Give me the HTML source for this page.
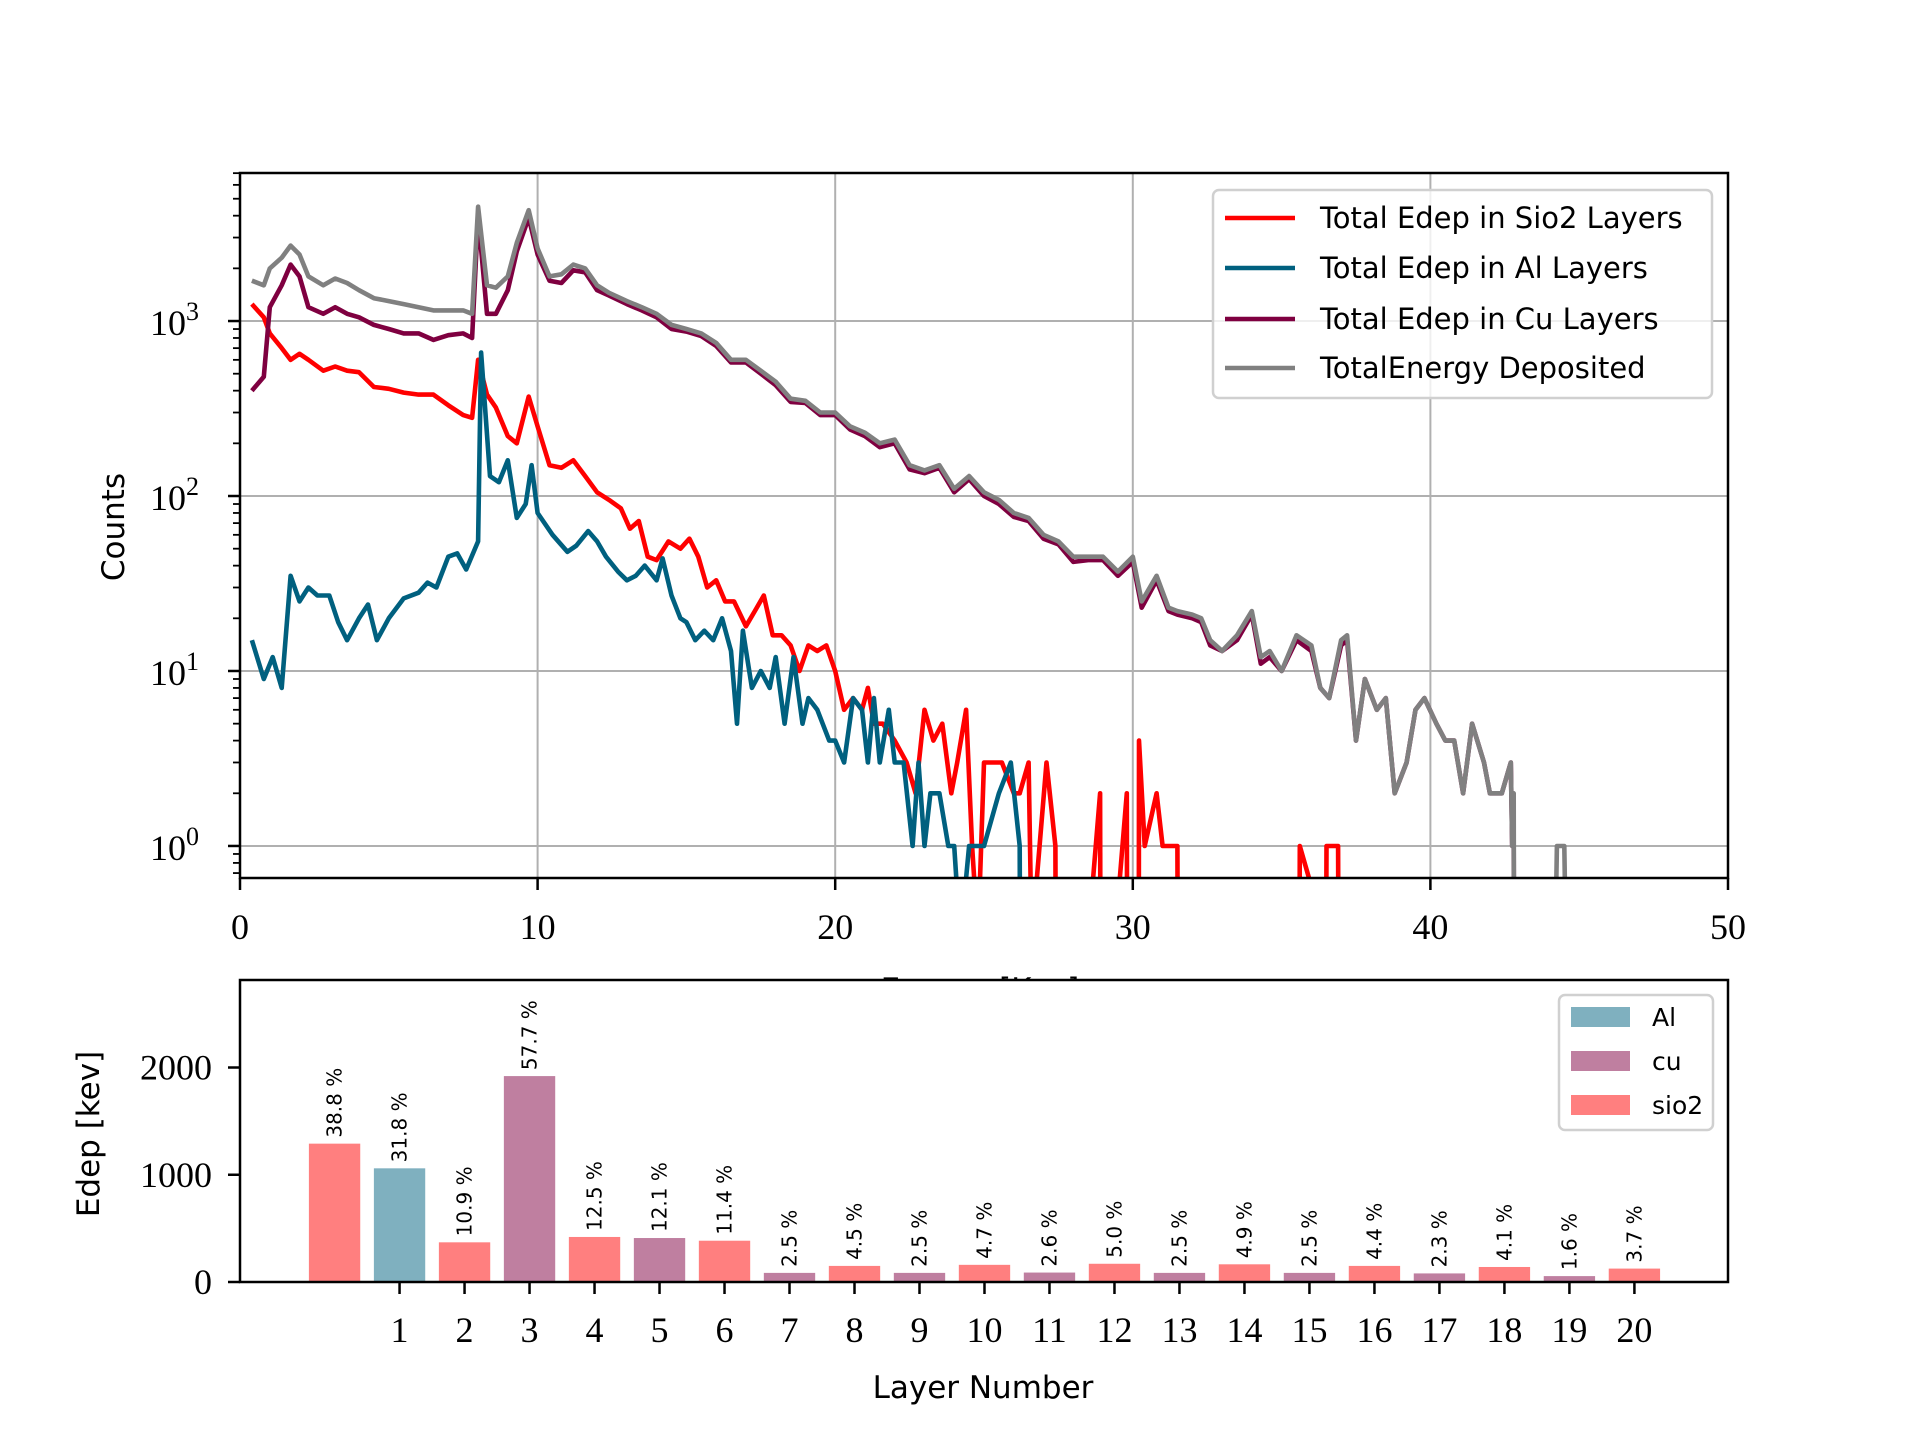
<!DOCTYPE html>
<html><head><meta charset="utf-8"><style>
html,body{margin:0;padding:0;background:#fff}
svg{display:block}
.serif{font-family:"Liberation Serif",serif}
.sans{font-family:"DejaVu Sans","Liberation Sans",sans-serif}
</style></head><body>
<svg id="fig" width="1920" height="1440" viewBox="0 0 1920 1440" xmlns="http://www.w3.org/2000/svg">
<rect width="1920" height="1440" fill="#fff"/>
<defs><clipPath id="clipTop"><rect x="240" y="173" width="1488" height="705"/></clipPath></defs>
<g id="top"></g>
<g id="bottom"></g>
</svg>
<script>
// ---------- spectrum data (keV, counts) ----------
const totalX = [0.4,0.8,1.0,1.4,1.7,2.0,2.3,2.8,3.2,3.6,4.0,4.5,5.0,5.5,6.0,6.5,7.0,7.5,7.8,8.0,8.3,8.6,9.0,9.3,9.7,10.0,10.4,10.8,11.2,11.6,12.0,12.4,13.0,13.5,14.0,14.5,15.0,15.5,16.0,16.5,17.0,17.5,18.0,18.5,19.0,19.5,20.0,20.5,21.0,21.5,22.0,22.5,23.0,23.5,24.0,24.5,25.0,25.5,26.0,26.5,27.0,27.5,28.0,28.5,29.0,29.5,30.0,30.3,30.8,31.2,31.5,32.0,32.3,32.6,33.0,33.5,34.0,34.3,34.6,35.0,35.5,36.0,36.3,36.6,37.0,37.2,37.5,37.8,38.2,38.5,38.8,39.2,39.5,39.8,40.2,40.5,40.8,41.1,41.4,41.8,42.0,42.4,42.7,42.75,42.8,42.81,44.2,44.25,44.5,44.55];
const totalY = [1700,1600,2000,2300,2700,2400,1800,1600,1750,1650,1500,1350,1300,1250,1200,1150,1150,1150,1100,4500,1600,1550,1800,2800,4300,2600,1800,1850,2100,2000,1600,1450,1300,1200,1100,950,900,850,750,600,600,520,450,360,350,300,300,250,230,200,210,150,140,150,110,130,105,95,80,75,60,55,45,45,45,37,45,25,35,23,22,21,20,15,13,16,22,12,13,10,16,14,8,7,15,16,4,9,6,7,2,3,6,7,5,4,4,2,5,3,2,2,3,1,2,0,0,1,1,0];
const cuX = [0.4,0.8,1.0,1.4,1.7,2.0,2.3,2.8,3.2,3.6,4.0,4.5,5.0,5.5,6.0,6.5,7.0,7.5,7.8,8.0,8.3,8.6,9.0,9.3,9.7,10.0,10.4,10.8,11.2,11.6,12.0,12.4,13.0,13.5,14.0,14.5,15.0,15.5,16.0,16.5,17.0,17.5,18.0,18.5,19.0,19.5,20.0,20.5,21.0,21.5,22.0,22.5,23.0,23.5,24.0,24.5,25.0,25.5,26.0,26.5,27.0,27.5,28.0,28.5,29.0,29.5,30.0,30.3,30.8,31.2,31.5,32.0,32.3,32.6,33.0,33.5,34.0,34.3,34.6,35.0,35.5,36.0,36.3,36.6,37.0,37.2,37.5,37.8,38.2,38.5,38.8,39.2,39.5,39.8,40.2,40.5,40.8,41.1,41.4,41.8,42.0,42.4,42.7,42.75,42.8,42.81];
const cuY = [400,480,1200,1600,2100,1800,1200,1100,1200,1100,1050,950,900,850,850,780,830,850,800,4000,1100,1100,1500,2500,3900,2400,1700,1650,1950,1900,1500,1400,1250,1150,1050,900,870,820,720,580,580,500,430,345,340,290,290,240,220,190,200,142,135,145,105,125,100,90,76,72,57,53,42,43,43,35,42,23,33,22,21,20,19,14,13,15,21,11,12,10,15,13,8,7,14,15,4,9,6,7,2,3,6,7,5,4,4,2,5,3,2,2,3,1,1,0];
const sio2X = [0.4,0.8,1.0,1.4,1.7,2.0,2.3,2.8,3.2,3.6,4.0,4.5,5.0,5.5,6.0,6.5,7.0,7.5,7.8,8.0,8.3,8.6,9.0,9.3,9.7,10.0,10.4,10.8,11.2,11.6,12.0,12.4,12.8,13.1,13.4,13.7,14.0,14.4,14.8,15.1,15.4,15.7,16.0,16.3,16.6,17.0,17.3,17.6,17.9,18.2,18.5,18.8,19.1,19.4,19.7,20.0,20.3,20.6,20.9,21.1,21.3,21.6,22.0,22.4,22.7,23.0,23.3,23.6,23.9,24.1,24.4,24.6,24.8,25.0,25.4,25.6,26.0,26.2,26.5,26.6,26.61,27.1,27.4,27.41,28.5,28.9,28.91,29.4,29.8,29.81,30.2,30.21,30.4,30.8,31.0,31.3,31.5,31.51,35.6,35.61,36.5,36.51,36.9,36.91];
const sio2Y = [1250,1050,850,700,600,650,600,520,550,520,510,420,410,390,380,380,330,290,280,600,380,320,220,200,370,250,150,145,160,130,105,95,85,65,72,45,43,55,50,57,45,30,33,25,25,18,22,27,16,16,14,10,14,13,14,10,6,7,6,8,5,5,4,3,2,6,4,5,2,3,6,1,0.2,3,3,3,2,2,3,0.2,0.2,3,1,0.2,0.2,2,0.2,0.2,2,0.2,0.2,4,1,2,1,1,1,0.2,0.2,1,0.2,1,1,0.2];
const alX = [0.4,0.8,1.1,1.4,1.7,2.0,2.3,2.6,3.0,3.3,3.6,4.0,4.3,4.6,5.0,5.5,6.0,6.3,6.6,7.0,7.3,7.6,8.0,8.1,8.4,8.7,9.0,9.3,9.6,9.8,10.0,10.5,11.0,11.3,11.7,12.0,12.3,12.7,13.0,13.3,13.6,14.0,14.2,14.5,14.8,15.0,15.3,15.6,15.9,16.2,16.5,16.7,16.9,17.2,17.5,17.8,18.0,18.3,18.6,18.9,19.1,19.4,19.8,20.0,20.3,20.6,20.9,21.1,21.3,21.5,21.8,22.0,22.3,22.6,22.8,23.0,23.2,23.5,23.8,24.0,24.2,24.21,24.5,24.6,25.0,25.5,25.9,26.2,26.21];
const alY = [15,9,12,8,35,25,30,27,27,19,15,20,24,15,20,26,28,32,30,45,47,38,55,660,130,120,160,75,90,150,80,60,48,52,63,55,45,37,33,35,40,33,44,27,20,19,15,17,15,20,13,5,17,8,10,8,12,5,12,5,7,6,4,4,3,7,6,3,7,3,6,3,3,1,3,1,2,2,1,1,0.2,0.2,1,1,1,2,3,1,0.2];
const seriesColors = ['#ff0000','#00607f','#7f0040','#808080'];
const seriesNames = ['Total Edep in Sio2 Layers','Total Edep in Al Layers','Total Edep in Cu Layers','TotalEnergy Deposited'];
const xTicks = [0,10,20,30,40,50];
const yDecades = [0,1,2,3];

// ---------- layer bar data ----------
const layers = [0,1,2,3,4,5,6,7,8,9,10,11,12,13,14,15,16,17,18,19,20];
const edep = [1290,1060,370,1920,420,410,385,85,150,85,160,88,170,85,165,85,150,80,140,55,125];
const materials = ['sio2','Al','sio2','cu','sio2','cu','sio2','cu','sio2','cu','sio2','cu','sio2','cu','sio2','cu','sio2','cu','sio2','cu','sio2'];
const pctLabels = ['38.8 %','31.8 %','10.9 %','57.7 %','12.5 %','12.1 %','11.4 %','2.5 %','4.5 %','2.5 %','4.7 %','2.6 %','5.0 %','2.5 %','4.9 %','2.5 %','4.4 %','2.3 %','4.1 %','1.6 %','3.7 %'];
const layerTicks = [1,2,3,4,5,6,7,8,9,10,11,12,13,14,15,16,17,18,19,20];
const edepTicks = [0,1000,2000];
const matColors = {Al:'#7fb0bf', cu:'#bf7fa0', sio2:'#ff7f7f'};
const legendMats = ['Al','cu','sio2'];

const NS='http://www.w3.org/2000/svg';
function mk(parent,tag,attrs,text){const e=document.createElementNS(NS,tag);for(const k in attrs)e.setAttribute(k,attrs[k]);if(text!==undefined)e.textContent=text;parent.appendChild(e);return e;}

const L=240,R=1728,T=173,B=878;
const X=v=>L+(v-0)/(50-0)*(R-L);
const LMIN=Math.log10(0.656),LMAX=3.846;
const Y=v=>{if(v<=0.3)return B+60;return B-(Math.log10(v)-LMIN)/(LMAX-LMIN)*(B-T);};
const topG=document.getElementById('top');
xTicks.slice(1,5).forEach(t=>{
 const g=mk(topG,'line',{x1:X(t),x2:X(t),y1:T,y2:B,stroke:'#b0b0b0','stroke-width':2});
 
 
});
yDecades.forEach(d=>{
 const g=mk(topG,'line',{x1:L,x2:R,y1:Y(Math.pow(10,d)),y2:Y(Math.pow(10,d)),stroke:'#b0b0b0','stroke-width':2});
 
 
});
const seriesX=[sio2X,alX,cuX,totalX], seriesY=[sio2Y,alY,cuY,totalY];
const lineNames=['sio2-line','al-line','cu-line','total-line'];
[0,1,2,3].forEach(i=>{
 const n=Math.min(seriesX[i].length,seriesY[i].length);
 const pts=seriesX[i].slice(0,n).map((x,j)=>X(x).toFixed(1)+','+Y(seriesY[i][j]).toFixed(1)).join(' ');
 const p=mk(topG,'polyline',{points:pts,fill:'none',stroke:seriesColors[i],'stroke-width':4.6,'stroke-linejoin':'round','clip-path':'url(#clipTop)'});
 
 
});
const fr=mk(topG,'rect',{x:L,y:T,width:R-L,height:B-T,fill:'none',stroke:'#000','stroke-width':2.5});


xTicks.forEach(t=>{
 mk(topG,'line',{x1:X(t),x2:X(t),y1:B,y2:B+12,stroke:'#000','stroke-width':2.5});
 const tl=mk(topG,'text',{x:X(t),y:939,'text-anchor':'middle','font-size':36,class:'serif'},String(t));
 
 
});
yDecades.forEach(d=>{
 const y=Y(Math.pow(10,d));
 mk(topG,'line',{x1:L-12,x2:L,y1:y,y2:y,stroke:'#000','stroke-width':2.5});
 const tl=mk(topG,'text',{x:150,y:y+14,'font-size':36,class:'serif'});
 
 
 tl.appendChild(document.createTextNode('10'));
 mk(tl,'tspan',{dy:-15,'font-size':26},String(d));
});
for(let d=-1;d<4;d++){for(let m=2;m<10;m++){const v=m*Math.pow(10,d);if(v<0.656||v>Math.pow(10,LMAX))continue;const y=Y(v);mk(topG,'line',{x1:L-7,x2:L,y1:y,y2:y,stroke:'#000','stroke-width':1.8});}}
const yl=mk(topG,'text',{x:0,y:0,transform:'translate(124,527) rotate(-90)','text-anchor':'middle','font-size':31,class:'sans'},'Counts');


const xl=mk(topG,'text',{x:980,y:1000,'text-anchor':'middle','font-size':31,class:'sans'},'Energy [Kev]');


const lg=mk(topG,'g',{});


mk(lg,'rect',{x:1213,y:190,width:499,height:208,rx:6,fill:'#fff','fill-opacity':0.8,stroke:'#d0d0d0','stroke-width':2.5});
const legY=[218,268,319,368];
seriesNames.forEach((n,i)=>{
 const e=mk(lg,'g',{});
 
 
 mk(e,'line',{x1:1225,x2:1295,y1:legY[i],y2:legY[i],stroke:seriesColors[i],'stroke-width':4.5});
 mk(e,'text',{x:1320,y:legY[i]+10,'font-size':29,class:'sans'},n);
});

const bL=240,bR=1728,bT=980,bB=1282;
const BXMIN=-1.455,BXMAX=21.44,BYMAX=2816;
const BX=v=>bL+(v-BXMIN)/(BXMAX-BXMIN)*(bR-bL);
const BY=v=>bB-v/BYMAX*(bB-bT);
const botG=document.getElementById('bottom');
mk(botG,'rect',{x:bL,y:bT,width:bR-bL,height:bB-bT,fill:'#fff'});
const bw=0.79*(BX(1)-BX(0));
layers.forEach((l,i)=>{
 const r=mk(botG,'rect',{x:BX(l)-bw/2,y:BY(edep[i]),width:bw,height:bB-BY(edep[i]),fill:matColors[materials[i]]});
 
 
 const tx=BX(l)+7,ty=BY(edep[i])-6;
 const t=mk(botG,'text',{x:0,y:0,transform:`translate(${tx},${ty}) rotate(-90)`,'font-size':20,class:'sans'},pctLabels[i]);
 
 
});
const bf=mk(botG,'rect',{x:bL,y:bT,width:bR-bL,height:bB-bT,fill:'none',stroke:'#000','stroke-width':2.5});


layerTicks.forEach(t=>{
 mk(botG,'line',{x1:BX(t),x2:BX(t),y1:bB,y2:bB+12,stroke:'#000','stroke-width':2.5});
 const tl=mk(botG,'text',{x:BX(t),y:1342,'text-anchor':'middle','font-size':36,class:'serif'},String(t));
 
 
});
edepTicks.forEach(t=>{
 mk(botG,'line',{x1:bL-12,x2:bL,y1:BY(t),y2:BY(t),stroke:'#000','stroke-width':2.5});
 const tl=mk(botG,'text',{x:212,y:BY(t)+12,'text-anchor':'end','font-size':36,class:'serif'},String(t));
 
 
});
const bxl=mk(botG,'text',{x:983,y:1398,'text-anchor':'middle','font-size':31,class:'sans'},'Layer Number');


const byl=mk(botG,'text',{x:0,y:0,transform:'translate(99,1134) rotate(-90)','text-anchor':'middle','font-size':31,class:'sans'},'Edep [kev]');


const bl=mk(botG,'g',{});


mk(bl,'rect',{x:1559,y:995,width:154,height:135,rx:6,fill:'#fff','fill-opacity':0.8,stroke:'#d0d0d0','stroke-width':2.5});
const blY=[1017,1061,1105];
legendMats.forEach((m,i)=>{
 const e=mk(bl,'g',{});
 
 
 mk(e,'rect',{x:1571,y:blY[i]-10,width:59,height:20,fill:matColors[m]});
 mk(e,'text',{x:1652,y:blY[i]+9,'font-size':25,class:'sans'},m);
});
</script>
</body></html>
